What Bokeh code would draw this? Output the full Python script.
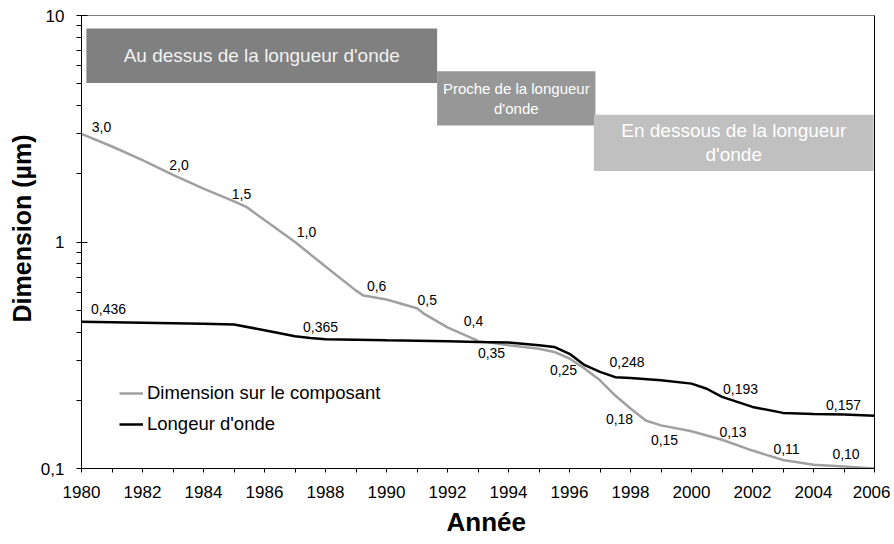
from bokeh.plotting import figure
from bokeh.models import (ColumnDataSource, FixedTicker, Title, Legend, LegendItem,
                          LinearAxis)
from bokeh.core.properties import value
from bokeh.embed import file_html
from bokeh.resources import INLINE

FONT = "Liberation Sans"

# ---------------- data ----------------
dim_years = [1980, 1981, 1982, 1983, 1984, 1985, 1985.4, 1986, 1987, 1988, 1989, 1989.25,
             1990, 1991, 1991.25, 1992, 1993, 1994, 1995, 1995.5, 1996, 1996.5, 1997,
             1997.5, 1998, 1998.5, 1999, 2000, 2001, 2002, 2003, 2004, 2005, 2006]
dim_values = [3.0, 2.64, 2.30, 1.98, 1.72, 1.51, 1.43, 1.25, 1.0, 0.78, 0.61, 0.58,
              0.557, 0.51, 0.48, 0.42, 0.366, 0.35, 0.338, 0.327, 0.306, 0.276, 0.245,
              0.21, 0.184, 0.163, 0.155, 0.146, 0.134, 0.12, 0.109, 0.104, 0.102, 0.10]

wl_years = [1980, 1982, 1984, 1985, 1986, 1987, 1987.5, 1988, 1990, 1992, 1993, 1994,
            1995, 1995.5, 1996, 1996.5, 1997, 1997.5, 1998, 1999, 2000, 2000.5, 2001,
            2002, 2003, 2004, 2005, 2006]
wl_values = [0.444, 0.44, 0.436, 0.432, 0.408, 0.384, 0.377, 0.372, 0.368, 0.365, 0.362,
             0.36, 0.35, 0.344, 0.321, 0.286, 0.267, 0.253, 0.251, 0.245, 0.237, 0.225,
             0.207, 0.187, 0.176, 0.174, 0.173, 0.171]

dim_label_years = [1980, 1983, 1985, 1987, 1989.25, 1991.25, 1992, 1994, 1996, 1998,
                   1999, 2001, 2003, 2005]
dim_label_texts = ["3,0", "2,0", "1,5", "1,0", "0,6", "0,5", "0,4", "0,35", "0,25",
                   "0,18", "0,15", "0,13", "0,11", "0,10"]
wl_label_years = [1980, 1988, 1998, 2001, 2005]
wl_label_texts = ["0,436", "0,365", "0,248", "0,193", "0,157"]

series_names = ["Dimension sur le composant", "Longeur d'onde"]
x_title = "Année"
y_title = "Dimension (µm)"

zone_texts = ["Au dessus de la longueur d'onde", "Proche de la longueur\nd'onde",
              "En dessous de la longueur\nd'onde"]

x_major_ticks = list(range(1980, 2007, 2))
x_minor_ticks = list(range(1981, 2006, 2))
y_major_ticks = [0.1, 1, 10]
y_tick_labels = ["0,1", "1", "10"]
y_minor_ticks = [m * d for d in (0.1, 1) for m in range(2, 10)]

# ---------------- layout / style ----------------
dim_label_dx = [20, 6, 7.5, 11.5, 13, 2.6, 26, -17, -6, -11, 3.5, 11, 3.5, 2]
dim_label_dy = [-6.7, -10, -7.5, -10, -9.5, -14, -6.7, 8, 12, 10, 15, -8, -10.6, -13]
wl_label_dx = [27, -5, -3.5, 18.5, -0.5]
wl_label_dy = [-13, -12, -15.7, -7.7, -9.5]

zone_left = [1980.16, 1991.66, 1996.8]
zone_right = [1991.66, 1996.85, 2005.97]
zone_bottom = [5.04, 3.27, 2.06]
zone_top = [8.76, 5.67, 3.65]
zone_fill = ["#808080", "#979797", "#c0c0c0"]
zone_text_color = ["#f2f2f2", "#ffffff", "#ffffff"]
zone_font = ["19px", "15px", "19px"]

GRAY = "#a0a0a0"
BLACK = "#000000"

p = figure(width=890, height=544, x_range=(1980, 2006), y_range=(0.1, 10),
           y_axis_type="log", output_backend="svg", toolbar_location=None,
           min_border_left=81, min_border_right=16, min_border_top=15,
           min_border_bottom=76)
p.grid.visible = False
p.outline_line_color = None
p.background_fill_color = "white"
p.border_fill_color = "white"

# zones
zsrc = ColumnDataSource(dict(
    left=zone_left, right=zone_right, bottom=zone_bottom, top=zone_top,
    fill=zone_fill, tcol=zone_text_color, text=zone_texts, fs=zone_font,
    cx=[(a + b) / 2 for a, b in zip(zone_left, zone_right)],
    cy=[(a * b) ** 0.5 for a, b in zip(zone_bottom, zone_top)],
))
p.quad(left="left", right="right", bottom="bottom", top="top", fill_color="fill",
       line_color=None, source=zsrc)
p.text(x="cx", y="cy", text="text", text_color="tcol", text_font_size="fs",
       text_font=value(FONT), text_align="center", text_baseline="middle",
       text_line_height=1.15, source=zsrc)

# lines
r_dim = p.line(dim_years, dim_values, line_color=GRAY, line_width=2.5)
r_wl = p.line(wl_years, wl_values, line_color=BLACK, line_width=2.5)

# data labels
dim_lookup = dict(zip(dim_years, dim_values))
wl_lookup = dict(zip(wl_years, wl_values))
dsrc = ColumnDataSource(dict(x=dim_label_years, y=[dim_lookup[v] for v in dim_label_years],
                             text=dim_label_texts, dx=dim_label_dx, dy=dim_label_dy))
wsrc = ColumnDataSource(dict(x=wl_label_years, y=[wl_lookup[v] for v in wl_label_years],
                             text=wl_label_texts, dx=wl_label_dx, dy=wl_label_dy))
for src in (dsrc, wsrc):
    p.text(x="x", y="y", text="text", x_offset="dx", y_offset="dy",
           text_font=value(FONT), text_font_size="14px", text_color="#000000",
           text_align="center", text_baseline="middle", source=src)

# axes
xa = p.xaxis[0]
xa.ticker = FixedTicker(ticks=x_major_ticks, minor_ticks=x_minor_ticks)
xa.major_tick_in = 0
xa.major_tick_out = 4
xa.minor_tick_in = 0
xa.minor_tick_out = 4
xa.major_label_standoff = 13
xa.major_label_text_font = FONT
xa.major_label_text_font_size = "17px"
xa.major_label_text_color = "#000000"
xa.axis_line_color = "#000000"
xa.major_tick_line_color = "#000000"
xa.minor_tick_line_color = "#000000"

ya = p.yaxis[0]
ya.ticker = FixedTicker(ticks=y_major_ticks, minor_ticks=y_minor_ticks)
ya.major_label_overrides = {t: s for t, s in zip(y_major_ticks, y_tick_labels)}
ya.major_tick_in = 6
ya.major_tick_out = 5
ya.minor_tick_in = 0
ya.minor_tick_out = 5
ya.major_label_standoff = 12
ya.major_label_text_font = FONT
ya.major_label_text_font_size = "17px"
ya.major_label_text_color = "#000000"
ya.axis_line_color = "#000000"
ya.major_tick_line_color = "#000000"
ya.minor_tick_line_color = "#000000"

# frame lines on top (gray) and right (black)
top_ax = LinearAxis(ticker=FixedTicker(ticks=[]), axis_line_color="#808080",
                    major_tick_out=0, major_tick_in=0, minor_tick_out=0, minor_tick_in=0,
                    major_label_text_font_size="0px")
right_ax = LinearAxis(ticker=FixedTicker(ticks=[]), axis_line_color="#000000",
                      major_tick_out=0, major_tick_in=0, minor_tick_out=0, minor_tick_in=0,
                      major_label_text_font_size="0px")
p.add_layout(top_ax, "above")
p.add_layout(right_ax, "right")

# axis titles
p.add_layout(Title(text=y_title, text_font=FONT, text_font_size="25px",
                   text_font_style="bold", text_color="#000000", align="left",
                   offset=146, standoff=3), "left")
p.add_layout(Title(text=x_title, text_font=FONT, text_font_size="26px",
                   text_font_style="bold", text_color="#000000", align="left",
                   offset=365, standoff=8), "below")

# legend
legend = Legend(items=[LegendItem(label=series_names[0], renderers=[r_dim]),
                       LegendItem(label=series_names[1], renderers=[r_wl])],
                location=(38, 33), orientation="vertical",
                label_text_font=FONT, label_text_font_size="18.5px",
                label_text_color="#000000", glyph_width=24, glyph_height=22,
                label_height=22, label_standoff=4, spacing=9, padding=0, margin=0,
                border_line_color=None, background_fill_alpha=0)
p.add_layout(legend)

open("out.html", "w").write(file_html(p, INLINE))
